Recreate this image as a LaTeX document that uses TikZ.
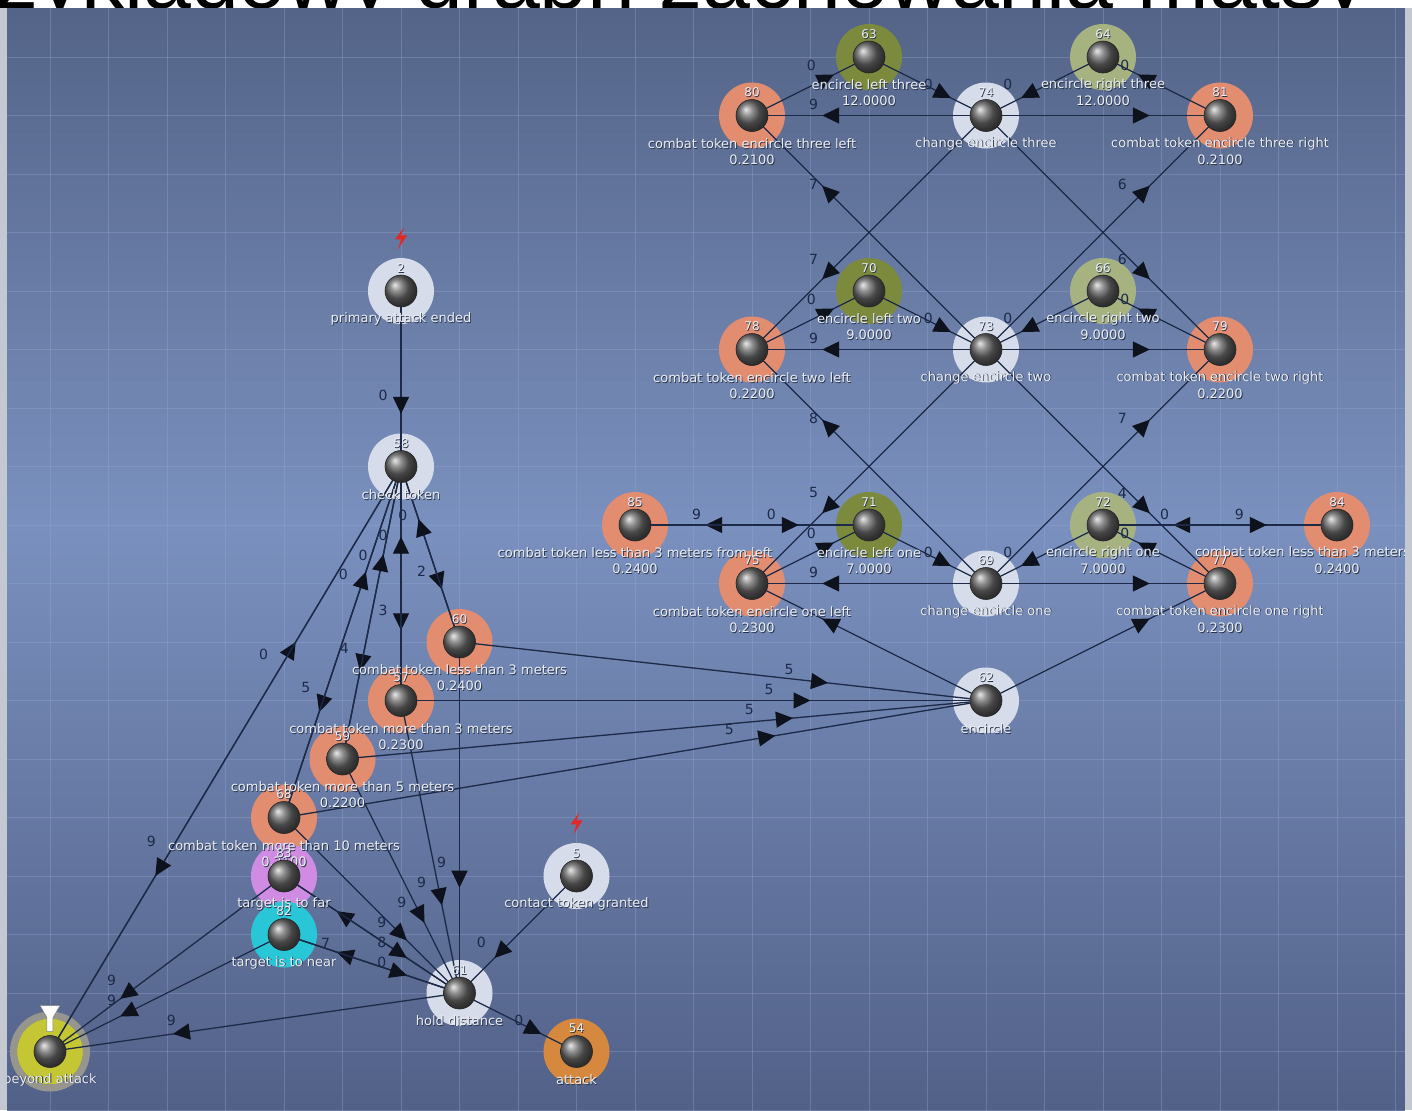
\documentclass[tikz,border=0pt]{standalone}
\usepackage{fontspec}
\setmainfont{DejaVu Sans}
\newfontfamily\headfont{Liberation Sans}
\usepackage{xcolor}
\usepackage{tikz}
\usetikzlibrary{arrows.meta,decorations.markings}
\definecolor{bgtop}{RGB}{84,100,136}
\definecolor{bgmid}{RGB}{122,144,190}
\definecolor{bgbot}{RGB}{82,97,136}
\definecolor{gridline}{RGB}{150,170,212}
\definecolor{edgeblue}{RGB}{28,42,72}
\definecolor{tipblack}{RGB}{14,18,28}
\definecolor{olivering}{RGB}{124,138,62}
\definecolor{sagering}{RGB}{166,178,128}
\definecolor{salmonring}{RGB}{226,140,112}
\definecolor{palering}{RGB}{214,220,234}
\definecolor{violetring}{RGB}{208,140,226}
\definecolor{cyanring}{RGB}{40,198,214}
\definecolor{orangering}{RGB}{214,136,62}
\definecolor{limering}{RGB}{196,198,52}
\definecolor{rimgray}{RGB}{150,150,142}
\definecolor{capwhite}{RGB}{236,240,246}
\definecolor{capshadow}{RGB}{40,50,70}
\definecolor{boltred}{RGB}{226,40,40}
\definecolor{framegray}{RGB}{196,200,208}

\tikzset{
  ring/.style={circle, minimum size=66pt, inner sep=0pt, fill=#1},
  link/.style={draw=edgeblue, line width=1.3pt, postaction={decorate},
    decoration={markings, mark=at position .7 with {\arrow{Triangle[length=17pt,width=16pt,color=tipblack]}}}},
  elbl/.style={pos=.66, xshift=-18pt, yshift=11pt, text=edgeblue, inner sep=0pt,
    font=\fontsize{14}{14}\selectfont},
  captxt/.style={font=\fontsize{13}{13}\selectfont, inner sep=0pt, text=capwhite},
  capsh/.style={captxt, text=capshadow},
  idnum/.style={font=\fontsize{12}{12}\selectfont, inner sep=0pt, text=capwhite},
  idsh/.style={idnum, text=capshadow},
}

% id / grid x / grid y / ring colour / number / caption / value
\def\statelist{
  n63/14/0/olivering/63/encircle left three/12.0000,
  n64/18/0/sagering/64/encircle right three/12.0000,
  n80/12/1/salmonring/80/combat token encircle three left/0.2100,
  n74/16/1/palering/74/change encircle three/{},
  n81/20/1/salmonring/81/combat token encircle three right/0.2100,
  n70/14/4/olivering/70/encircle left two/9.0000,
  n66/18/4/sagering/66/encircle right two/9.0000,
  n78/12/5/salmonring/78/combat token encircle two left/0.2200,
  n73/16/5/palering/73/change encircle two/{},
  n79/20/5/salmonring/79/combat token encircle two right/0.2200,
  n85/10/8/salmonring/85/combat token less than 3 meters from left/0.2400,
  n71/14/8/olivering/71/encircle left one/7.0000,
  n72/18/8/sagering/72/encircle right one/7.0000,
  n84/22/8/salmonring/84/combat token less than 3 meters from right/0.2400,
  n75/12/9/salmonring/75/combat token encircle one left/0.2300,
  n69/16/9/palering/69/change encircle one/{},
  n77/20/9/salmonring/77/combat token encircle one right/0.2300,
  n62/16/11/palering/62/encircle/{},
  n2/6/4/palering/2/primary attack ended/{},
  n58/6/7/palering/58/check token/{},
  n60/7/10/salmonring/60/combat token less than 3 meters/0.2400,
  n57/6/11/salmonring/57/combat token more than 3 meters/0.2300,
  n59/5/12/salmonring/59/combat token more than 5 meters/0.2200,
  n68/4/13/salmonring/68/combat token more than 10 meters/0.2100,
  n83/4/14/violetring/83/target is to far/{},
  n82/4/15/cyanring/82/target is to near/{},
  n61/7/16/palering/61/hold distance/{},
  n5/9/14/palering/5/contact token granted/{},
  n54/9/17/orangering/54/attack/{},
  nbey/0/17/limering/{}/beyond attack/{}}

\begin{document}
\begin{tikzpicture}[x=58.5pt,y=-58.5pt]
\useasboundingbox (-0.8547,-0.9744) rectangle (23.2821,18.0);

% cut-off title above the canvas
\node[anchor=base west, inner sep=0pt, font=\headfont\fontsize{86}{86}\selectfont]
  (title) at (-0.94,-0.8376) {zykładowy graph zachowania matsy};

% canvas
\shade[top color=bgtop, bottom color=bgmid] (-0.735,-0.8376) rectangle (23.16,8.0);
\shade[top color=bgmid, bottom color=bgbot] (-0.735,7.99) rectangle (23.16,18.0);
\fill[framegray] (-0.8547,-0.8376) rectangle (-0.735,18.0);
\fill[framegray] (23.16,-0.8376) rectangle (23.2821,18.0);

\begin{scope}
\clip (-0.735,-0.8376) rectangle (23.16,18.0);

% grid
\foreach \k in {0,...,23} \draw[gridline, opacity=.35, line width=.7pt] (\k,-1) -- (\k,18.2);
\foreach \k in {-1,...,18} \draw[gridline, opacity=.35, line width=.7pt] (-1,\k) -- (23.5,\k);

% states
\foreach \id/\gx/\gy/\col/\num/\txt/\val in \statelist {
  \node[ring=\col] (\id) at (\gx,\gy) {};
}
\draw[rimgray, line width=7pt] (nbey) circle (36.5pt);

% transitions
\foreach \a/\b/\w in {
  n74/n80/9, n80/n63/0, n63/n74/0, n64/n74/0, n81/n64/0, n74/n81/{},
  n73/n80/7, n73/n81/6, n74/n78/7, n74/n79/6,
  n78/n70/0, n70/n73/0, n73/n78/9, n66/n73/0, n79/n66/0, n73/n79/{},
  n69/n78/8, n69/n79/7, n73/n75/5, n73/n77/4,
  n75/n71/0, n71/n69/0, n69/n75/9, n72/n69/0, n77/n72/0, n69/n77/{},
  n71/n85/9, n85/n71/0, n84/n72/0, n72/n84/9,
  n62/n75/{}, n62/n77/{},
  n2/n58/0, n58/n60/2, n60/n58/0, n58/n57/3, n57/n58/0,
  n58/n59/4, n59/n58/0, n58/n68/5, n68/n58/0,
  nbey/n58/0, n58/nbey/9,
  n60/n62/5, n57/n62/5, n59/n62/5, n68/n62/5,
  n83/nbey/9, n82/nbey/9, n61/nbey/9,
  n61/n83/{}, n83/n61/8, n61/n82/7, n82/n61/0,
  n68/n61/9, n59/n61/9, n57/n61/9, n60/n61/9,
  n5/n61/0, n61/n54/0}
  \draw[link] (\a.center) -- node[elbl] {\w} (\b.center);

% balls and captions
\foreach \id/\gx/\gy/\col/\num/\txt/\val in \statelist {
  \shade[ball color=black!60] (\id) circle (16pt);
  \draw[black!85, line width=.6pt] (\id) circle (16pt);
  \node[idsh] at ([xshift=.8pt,yshift=22.2pt]\id) {\num};
  \node[idnum] at ([yshift=23pt]\id) {\num};
  \node[capsh] at ([xshift=.8pt,yshift=-28.8pt]\id) {\txt};
  \node[captxt] at ([yshift=-28pt]\id) {\txt};
  \node[capsh] at ([xshift=.8pt,yshift=-44.8pt]\id) {\val};
  \node[captxt] at ([yshift=-44pt]\id) {\val};
}

% event marks
\fill[boltred, shift={(6,3.1)}] (3pt,11pt) -- (-6pt,-1pt) -- (0pt,-1pt) -- (-3pt,-11pt)
  -- (6pt,3pt) -- (0pt,3pt) -- cycle;
\fill[boltred, shift={(9,13.1)}] (3pt,11pt) -- (-6pt,-1pt) -- (0pt,-1pt) -- (-3pt,-11pt)
  -- (6pt,3pt) -- (0pt,3pt) -- cycle;
\fill[white, draw=black!50, line width=.5pt, shift={(nbey)}] (-10pt,46pt) -- (10pt,46pt)
  -- (3pt,34pt) -- (3pt,20pt) -- (-3pt,20pt) -- (-3pt,34pt) -- cycle;
\end{scope}

\end{tikzpicture}
\end{document}
